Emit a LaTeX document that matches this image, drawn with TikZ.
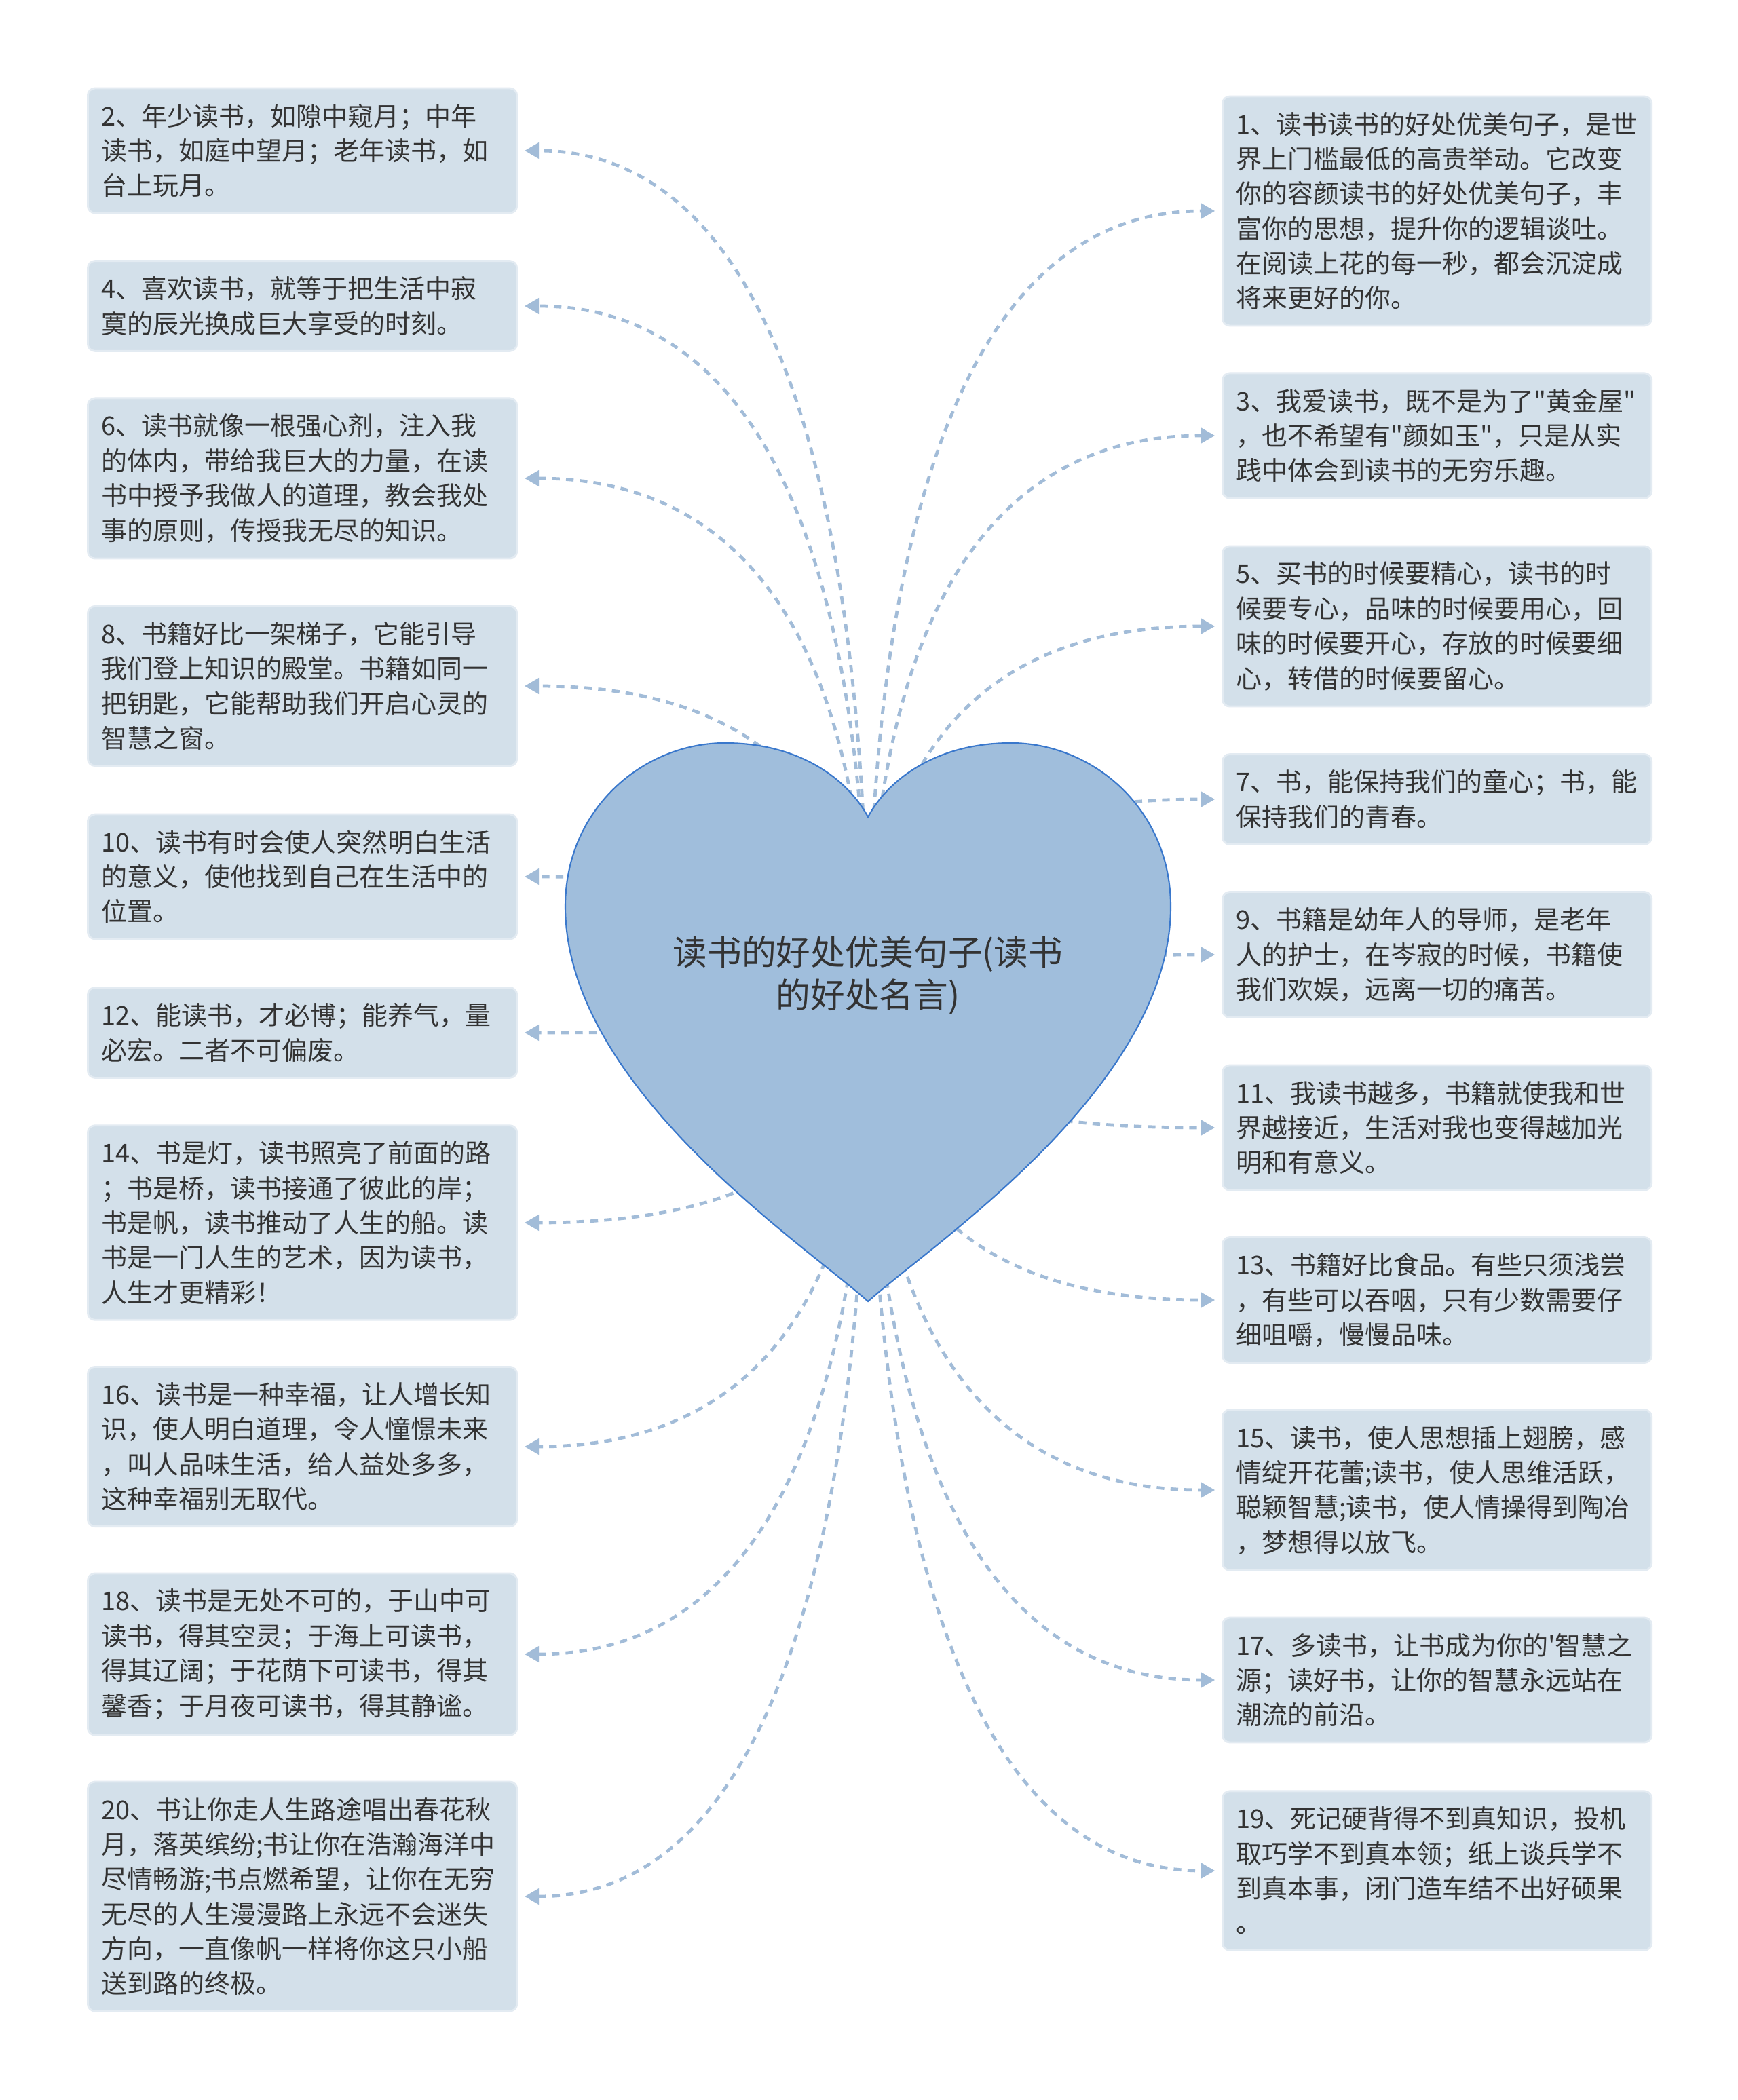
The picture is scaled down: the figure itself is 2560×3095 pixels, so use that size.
\documentclass[tikz,border=0pt]{standalone}
\usepackage{fontspec}
\usepackage{xcolor}
\usepackage{tikz}
\usetikzlibrary{arrows.meta,calc,positioning}
\newfontfamily\cjkfont[Ligatures=TeXOff]{Noto Sans CJK SC}
\definecolor{leaffill}{HTML}{D3E0EA}
\definecolor{leafline}{HTML}{E3EBF2}
\definecolor{heartfill}{HTML}{A0BEDC}
\definecolor{heartline}{HTML}{3A78CC}
\definecolor{linkblue}{HTML}{A2BCD8}
\definecolor{inkgray}{HTML}{333333}

\begin{document}
\begin{tikzpicture}[x=0.01cm,y=-0.01cm,
  leaf/.style={draw=leafline,line width=0.8pt,fill=leaffill,rounded corners=3pt,text=inkgray,
    font=\cjkfont\fontsize{10.8pt}{14.6pt}\selectfont,align=left,text width=5.92cm,
    inner xsep=0.2cm,inner ysep=0.23cm,anchor=west},
  rootlabel/.style={text=inkgray,font=\cjkfont\fontsize{14.4pt}{17.9pt}\selectfont,align=center},
  link/.style={draw=linkblue,line width=1.35pt,dash pattern=on 3.2pt off 2.6pt,shorten >=2.8pt,
    -{Triangle[length=6pt,width=6.5pt]},
    to path={.. controls ($(\tikztostart)!0.667!(\tikztostart |- \tikztotarget)$)
      and ($(\tikztotarget)!0.667!(\tikztostart |- \tikztotarget)$) .. (\tikztotarget)}}]
  \path[fill=white,use as bounding box] (0,0) rectangle (2560,3095);
  \coordinate (root) at (1279,1480);

  \node[leaf] (b2) at (128,222) {2、年少读书，如隙中窥月；中年\\读书，如庭中望月；老年读书，如\\台上玩月。};
  \node[leaf] (b4) at (128,451) {4、喜欢读书，就等于把生活中寂\\寞的辰光换成巨大享受的时刻。};
  \node[leaf] (b6) at (128,705) {6、读书就像一根强心剂，注入我\\的体内，带给我巨大的力量，在读\\书中授予我做人的道理，教会我处\\事的原则，传授我无尽的知识。};
  \node[leaf] (b8) at (128,1011) {8、书籍好比一架梯子，它能引导\\我们登上知识的殿堂。书籍如同一\\把钥匙，它能帮助我们开启心灵的\\智慧之窗。};
  \node[leaf] (b10) at (128,1292) {10、读书有时会使人突然明白生活\\的意义，使他找到自己在生活中的\\位置。};
  \node[leaf] (b12) at (128,1522) {12、能读书，才必博；能养气，量\\必宏。二者不可偏废。};
  \node[leaf] (b14) at (128,1802) {14、书是灯，读书照亮了前面的路\\；书是桥，读书接通了彼此的岸；\\书是帆，读书推动了人生的船。读\\书是一门人生的艺术，因为读书，\\人生才更精彩！};
  \node[leaf] (b16) at (128,2132) {16、读书是一种幸福，让人增长知\\识，使人明白道理，令人憧憬未来\\，叫人品味生活，给人益处多多，\\这种幸福别无取代。};
  \node[leaf] (b18) at (128,2438) {18、读书是无处不可的，于山中可\\读书，得其空灵；于海上可读书，\\得其辽阔；于花荫下可读书，得其\\馨香；于月夜可读书，得其静谧。};
  \node[leaf] (b20) at (128,2795) {20、书让你走人生路途唱出春花秋\\月，落英缤纷;书让你在浩瀚海洋中\\尽情畅游;书点燃希望，让你在无穷\\无尽的人生漫漫路上永远不会迷失\\方向，一直像帆一样将你这只小船\\送到路的终极。};

  \node[leaf] (b1) at (1800,311) {1、读书读书的好处优美句子，是世\\界上门槛最低的高贵举动。它改变\\你的容颜读书的好处优美句子，丰\\富你的思想，提升你的逻辑谈吐。\\在阅读上花的每一秒，都会沉淀成\\将来更好的你。};
  \node[leaf] (b3) at (1800,642) {3、我爱读书，既不是为了"黄金屋"\\，也不希望有"颜如玉"，只是从实\\践中体会到读书的无穷乐趣。};
  \node[leaf] (b5) at (1800,923) {5、买书的时候要精心，读书的时\\候要专心，品味的时候要用心，回\\味的时候要开心，存放的时候要细\\心，转借的时候要留心。};
  \node[leaf] (b7) at (1800,1178) {7、书，能保持我们的童心；书，能\\保持我们的青春。};
  \node[leaf] (b9) at (1800,1407) {9、书籍是幼年人的导师，是老年\\人的护士，在岑寂的时候，书籍使\\我们欢娱，远离一切的痛苦。};
  \node[leaf] (b11) at (1800,1662) {11、我读书越多，书籍就使我和世\\界越接近，生活对我也变得越加光\\明和有意义。};
  \node[leaf] (b13) at (1800,1916) {13、书籍好比食品。有些只须浅尝\\，有些可以吞咽，只有少数需要仔\\细咀嚼，慢慢品味。};
  \node[leaf] (b15) at (1800,2196) {15、读书，使人思想插上翅膀，感\\情绽开花蕾;读书，使人思维活跃，\\聪颖智慧;读书，使人情操得到陶冶\\，梦想得以放飞。};
  \node[leaf] (b17) at (1800,2476) {17、多读书，让书成为你的'智慧之\\源；读好书，让你的智慧永远站在\\潮流的前沿。};
  \node[leaf] (b19) at (1800,2757) {19、死记硬背得不到真知识，投机\\取巧学不到真本领；纸上谈兵学不\\到真本事，闭门造车结不出好硕果\\。};

  \draw[link] (root) to (b2.east); \draw[link] (root) to (b4.east);
  \draw[link] (root) to (b6.east); \draw[link] (root) to (b8.east);
  \draw[link] (root) to (b10.east); \draw[link] (root) to (b12.east);
  \draw[link] (root) to (b14.east); \draw[link] (root) to (b16.east);
  \draw[link] (root) to (b18.east); \draw[link] (root) to (b20.east);
  \draw[link] (root) to (b1.west); \draw[link] (root) to (b3.west);
  \draw[link] (root) to (b5.west); \draw[link] (root) to (b7.west);
  \draw[link] (root) to (b9.west); \draw[link] (root) to (b11.west);
  \draw[link] (root) to (b13.west); \draw[link] (root) to (b15.west);
  \draw[link] (root) to (b17.west); \draw[link] (root) to (b19.west);

  \filldraw[fill=heartfill,draw=heartline,line width=0.6pt] (1279,1918)
    .. controls (1180,1830) and (833,1600) .. (833,1336)
    .. controls (833,1190) and (950,1095) .. (1068,1095)
    .. controls (1180,1095) and (1250,1150) .. (1279,1204)
    .. controls (1308,1150) and (1378,1095) .. (1490,1095)
    .. controls (1608,1095) and (1725,1190) .. (1725,1336)
    .. controls (1725,1600) and (1378,1830) .. (1279,1918) -- cycle;
  \node[rootlabel] (title) at (1279,1438) {读书的好处优美句子(读书\\的好处名言)};
\end{tikzpicture}
\end{document}
